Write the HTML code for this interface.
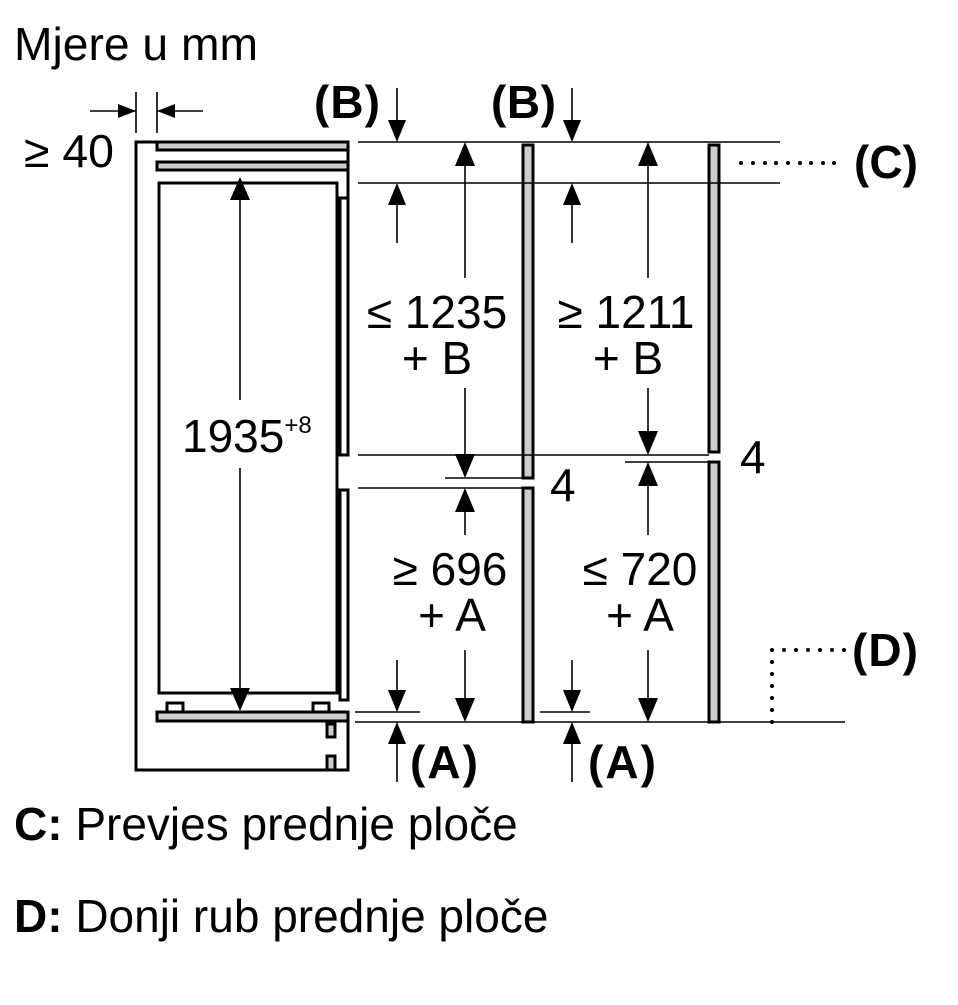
<!DOCTYPE html>
<html><head><meta charset="utf-8"><style>
html,body{margin:0;padding:0;background:#fff;}
svg{display:block;font-family:"Liberation Sans",Arial,sans-serif;}
</style></head><body>
<svg width="958" height="1005" viewBox="0 0 958 1005" xmlns="http://www.w3.org/2000/svg">
<rect width="958" height="1005" fill="#fff"/>
<g font-size="46" fill="#000">
<text x="14" y="60" textLength="244" lengthAdjust="spacingAndGlyphs">Mjere u mm</text>
<text x="24" y="167" textLength="90" lengthAdjust="spacingAndGlyphs">≥ 40</text>
<text x="182" y="452">1935<tspan font-size="24" dy="-19">+8</tspan></text>
<text x="437" y="328" text-anchor="middle">≤ 1235</text>
<text x="437" y="374" text-anchor="middle">+ B</text>
<text x="626" y="328" text-anchor="middle">≥ 1211</text>
<text x="628" y="374" text-anchor="middle">+ B</text>
<text x="450" y="585" text-anchor="middle">≥ 696</text>
<text x="452" y="631" text-anchor="middle">+ A</text>
<text x="640" y="585" text-anchor="middle">≤ 720</text>
<text x="640" y="631" text-anchor="middle">+ A</text>
<text x="550" y="501">4</text>
<text x="740" y="473">4</text>
<g font-weight="bold" font-size="46">
<text x="314" y="118" textLength="66" lengthAdjust="spacing">(B)</text>
<text x="491" y="118" textLength="65" lengthAdjust="spacing">(B)</text>
<text x="854" y="178" textLength="64" lengthAdjust="spacing">(C)</text>
<text x="852" y="666" textLength="66" lengthAdjust="spacing">(D)</text>
<text x="410" y="778" textLength="68" lengthAdjust="spacing">(A)</text>
<text x="588" y="778" textLength="68" lengthAdjust="spacing">(A)</text>
</g>
<text x="14" y="840"><tspan font-weight="bold">C:</tspan> Prevjes prednje ploče</text>
<text x="14" y="932"><tspan font-weight="bold">D:</tspan> Donji rub prednje ploče</text>
</g>
<g stroke="#000" fill="none" stroke-width="3">
<polyline points="157,142 136,142 136,770 348,770 348,721"/>
<line x1="348" y1="142" x2="348" y2="200"/>
<rect x="157" y="142" width="191" height="8" fill="#ccc"/>
<rect x="157" y="162" width="191" height="8" fill="#ccc"/>
<rect x="159" y="183" width="178" height="510"/>
<rect x="340" y="198" width="8" height="257"/>
<rect x="340" y="490" width="8" height="210"/>
<rect x="157" y="712" width="191" height="9" fill="#ccc"/>
<rect x="167" y="703" width="16" height="9"/>
<rect x="313" y="703" width="16" height="9"/>
<rect x="327" y="724" width="8" height="13" fill="#ccc"/>
<rect x="327" y="756" width="8" height="14" fill="#ccc"/>
<rect x="523" y="145" width="10" height="333" fill="#ccc"/>
<rect x="523" y="488" width="10" height="234" fill="#ccc"/>
<rect x="709" y="145" width="10" height="307" fill="#ccc"/>
<rect x="709" y="462" width="10" height="260" fill="#ccc"/>
</g>
<g stroke="#000" stroke-width="1.6" fill="none">
<line x1="136" y1="92" x2="136" y2="133"/>
<line x1="157" y1="92" x2="157" y2="133"/>
<line x1="90" y1="111" x2="136" y2="111"/>
<line x1="157" y1="111" x2="203" y2="111"/>
<line x1="358" y1="142" x2="780" y2="142"/>
<line x1="358" y1="183" x2="780" y2="183"/>
<line x1="358" y1="455" x2="709" y2="455"/>
<line x1="445" y1="478" x2="533" y2="478"/>
<line x1="358" y1="488" x2="533" y2="488"/>
<line x1="625" y1="462" x2="719" y2="462"/>
<line x1="355" y1="722" x2="845" y2="722"/>
<line x1="355" y1="712" x2="420" y2="712"/>
<line x1="540" y1="712" x2="590" y2="712"/>
<line x1="240" y1="190" x2="240" y2="400"/>
<line x1="240" y1="468" x2="240" y2="705"/>
<line x1="397" y1="88" x2="397" y2="135"/>
<line x1="397" y1="190" x2="397" y2="243"/>
<line x1="572" y1="88" x2="572" y2="135"/>
<line x1="572" y1="190" x2="572" y2="243"/>
<line x1="465" y1="150" x2="465" y2="278"/>
<line x1="465" y1="388" x2="465" y2="470"/>
<line x1="465" y1="495" x2="465" y2="535"/>
<line x1="465" y1="650" x2="465" y2="715"/>
<line x1="648" y1="150" x2="648" y2="278"/>
<line x1="648" y1="388" x2="648" y2="448"/>
<line x1="648" y1="470" x2="648" y2="535"/>
<line x1="648" y1="650" x2="648" y2="715"/>
<line x1="397" y1="660" x2="397" y2="705"/>
<line x1="397" y1="730" x2="397" y2="782"/>
<line x1="572" y1="660" x2="572" y2="705"/>
<line x1="572" y1="730" x2="572" y2="782"/>
</g>
<g fill="#000">
<polygon points="136,111 118,104 118,118"/>
<polygon points="157,111 175,104 175,118"/>
<polygon points="240,177 230,200 250,200"/>
<polygon points="240,711 230,688 250,688"/>
<polygon points="397,142 388,120 406,120"/>
<polygon points="397,183 388,205 406,205"/>
<polygon points="572,142 563,120 581,120"/>
<polygon points="572,183 563,205 581,205"/>
<polygon points="465,142 455,166 475,166"/>
<polygon points="465,478 455,454 475,454"/>
<polygon points="465,488 455,512 475,512"/>
<polygon points="465,722 455,698 475,698"/>
<polygon points="648,142 638,166 658,166"/>
<polygon points="648,455 638,431 658,431"/>
<polygon points="648,462 638,486 658,486"/>
<polygon points="648,722 638,698 658,698"/>
<polygon points="397,712 388,690 406,690"/>
<polygon points="397,722 388,744 406,744"/>
<polygon points="572,712 563,690 581,690"/>
<polygon points="572,722 563,744 581,744"/>
</g>
<g fill="#000">
<circle cx="741" cy="163" r="2"/><circle cx="753" cy="163" r="2"/><circle cx="765" cy="163" r="2"/><circle cx="776" cy="163" r="2"/><circle cx="788" cy="163" r="2"/><circle cx="800" cy="163" r="2"/><circle cx="811" cy="163" r="2"/><circle cx="823" cy="163" r="2"/><circle cx="834" cy="163" r="2"/>
<circle cx="772" cy="650" r="2"/><circle cx="784" cy="650" r="2"/><circle cx="796" cy="650" r="2"/><circle cx="808" cy="650" r="2"/><circle cx="820" cy="650" r="2"/><circle cx="832" cy="650" r="2"/><circle cx="844" cy="650" r="2"/>
<circle cx="772" cy="662" r="2"/><circle cx="772" cy="674" r="2"/><circle cx="772" cy="686" r="2"/><circle cx="772" cy="698" r="2"/><circle cx="772" cy="710" r="2"/><circle cx="772" cy="722" r="2"/>
</g>
</svg>
</body></html>
